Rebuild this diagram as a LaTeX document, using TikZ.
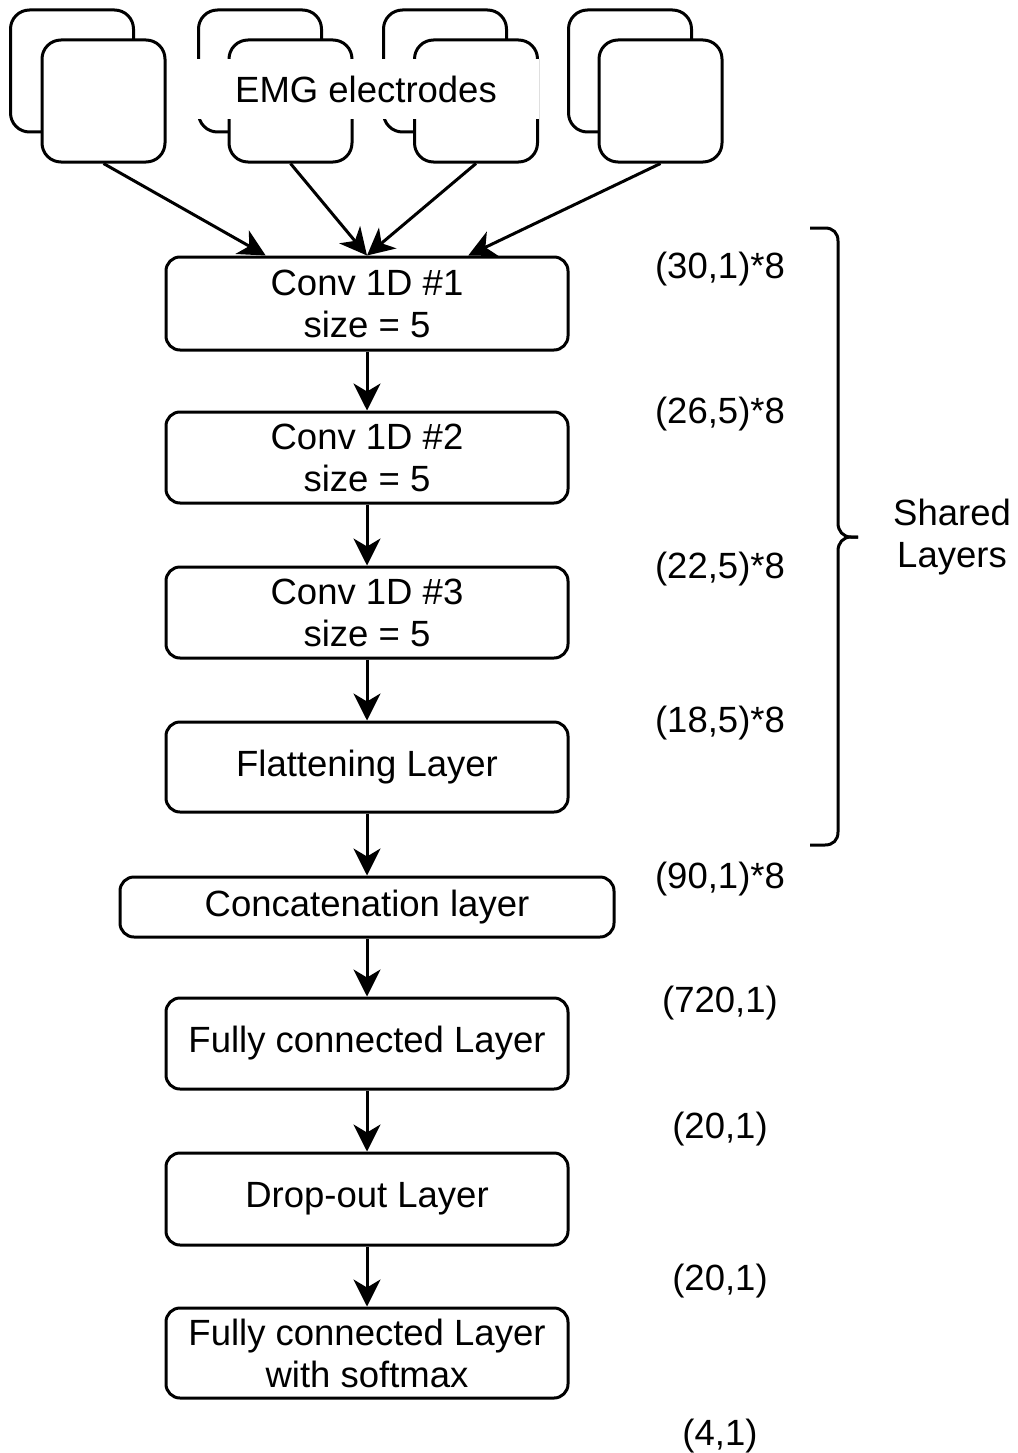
\documentclass[tikz,border=0pt]{standalone}
\usepackage{fontspec}
\setmainfont{Liberation Sans}
\usetikzlibrary{arrows.meta,calc}
\tikzset{
  layerbox/.style={draw, line width=3pt, rounded corners=14pt, align=center, inner sep=0pt,
    font=\fontsize{36.5}{42}\selectfont},
  elec/.style={draw, line width=3pt, rounded corners=19pt, fill=white, minimum width=123pt, minimum height=122pt, inner sep=0pt},
  lbl/.style={font=\fontsize{36.5}{42}\selectfont, inner sep=0pt, align=center},
  arr/.style={line width=3pt, -{Stealth[length=27pt,width=27pt,inset=8pt]}},
}
\begin{document}
\begin{tikzpicture}[x=1pt,y=-1pt]
\useasboundingbox (0,0) rectangle (1017,1453);
% electrodes
\node[elec] (b1) at (72,71) {};
\node[elec] (f1) at (103.5,101) {};
\node[elec] (b2) at (260,71) {};
\node[elec] (f2) at (290.5,101) {};
\node[elec] (b3) at (445,71) {};
\node[elec] (f3) at (476,101) {};
\node[elec] (b4) at (630,71) {};
\node[elec] (f4) at (660.5,101) {};
\node[lbl, fill=white, minimum width=345pt, minimum height=60pt] (emg) at (366,89) {EMG electrodes};
% layers
\node[layerbox, minimum width=402pt, minimum height=93pt] (c1) at (367,303.5) {Conv 1D \#1\\size = 5};
\node[layerbox, minimum width=402pt, minimum height=91pt] (c2) at (367,457.5) {Conv 1D \#2\\size = 5};
\node[layerbox, minimum width=402pt, minimum height=91pt] (c3) at (367,612.5) {Conv 1D \#3\\size = 5};
\node[layerbox, minimum width=402pt, minimum height=90pt] (fl) at (367,767) {Flattening Layer};
\node[layerbox, minimum width=494pt, minimum height=60pt] (cc) at (367,907) {Concatenation layer};
\node[layerbox, minimum width=402pt, minimum height=91pt] (fc) at (367,1043.5) {Fully connected Layer};
\node[layerbox, minimum width=402pt, minimum height=92pt] (dr) at (367,1199) {Drop-out Layer};
\node[layerbox, minimum width=402pt, minimum height=90pt] (sm) at (367,1353) {Fully connected Layer\\with softmax};
% arrows from electrodes
\draw[arr] (f1.south) -- ($(c1.north west)!0.25!(c1.north east)$);
\draw[arr] (f2.south) -- (c1.north);
\draw[arr] (f3.south) -- (c1.north);
\draw[arr] (f4.south) -- ($(c1.north west)!0.75!(c1.north east)$);
% vertical arrows
\draw[arr] (c1.south) -- (c2.north);
\draw[arr] (c2.south) -- (c3.north);
\draw[arr] (c3.south) -- (fl.north);
\draw[arr] (fl.south) -- (cc.north);
\draw[arr] (cc.south) -- (fc.north);
\draw[arr] (fc.south) -- (dr.north);
\draw[arr] (dr.south) -- (sm.north);
% shape labels
\node[lbl] (s1) at (720,269) {(30,1)*8};
\node[lbl] (s2) at (720,414) {(26,5)*8};
\node[lbl] (s3) at (720,569) {(22,5)*8};
\node[lbl] (s4) at (720,723) {(18,5)*8};
\node[lbl] (s5) at (720,879) {(90,1)*8};
\node[lbl] (s6) at (720,1003) {(720,1)};
\node[lbl] (s7) at (720,1129) {(20,1)};
\node[lbl] (s8) at (720,1281) {(20,1)};
\node[lbl] (s9) at (720,1436) {(4,1)};
% brace
\draw[line width=3pt] (810,228) -- (825,228) .. controls (833,228) and (838,233) .. (838,241)
  -- (838,523) .. controls (838,531) and (843,537) .. (851,537) -- (858,537);
\draw[line width=3pt] (858,537) -- (851,537) .. controls (843,537) and (838,543) .. (838,551)
  -- (838,832) .. controls (838,840) and (833,845) .. (825,845) -- (810,845);
\node[lbl] (sh) at (952,537) {Shared\\Layers};
\end{tikzpicture}
\end{document}
